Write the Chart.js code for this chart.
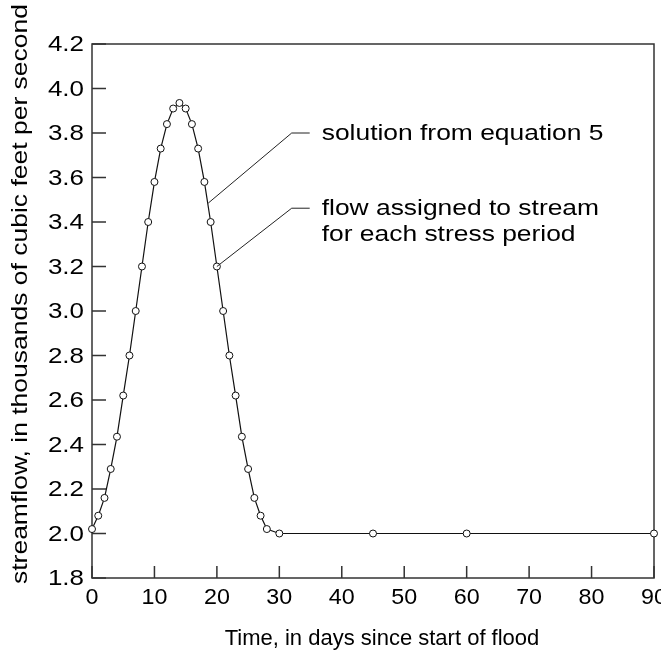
<!DOCTYPE html>
<html>
<head>
<meta charset="utf-8">
<script src="https://cdn.jsdelivr.net/npm/chart.js@4/dist/chart.umd.min.js"></script>
<style>
  html, body { margin: 0; padding: 0; background: #fff; }
  #wrap { width: 661px; height: 656px; }
</style>
</head>
<body>
<div id="wrap"><canvas id="flood"></canvas></div>
<script>
// days since start of flood, and streamflow (thousands of ft3/s)
const days = [0, 1, 2, 3, 4, 5, 6, 7, 8, 9, 10, 11, 12, 13, 14, 15, 16, 17, 18, 19,
              20, 21, 22, 23, 24, 25, 26, 27, 28, 30, 45, 60, 90];
const flow = [2.02, 2.08, 2.16, 2.29, 2.435, 2.62, 2.80, 3.00, 3.20, 3.40,
              3.58, 3.73, 3.84, 3.91, 3.935, 3.91, 3.84, 3.73, 3.58, 3.40,
              3.20, 3.00, 2.80, 2.62, 2.435, 2.29, 2.16, 2.08, 2.02, 2.00, 2.00, 2.00, 2.00];

const xTicks = [0, 10, 20, 30, 40, 50, 60, 70, 80, 90];
const yTicks = ['1.8', '2.0', '2.2', '2.4', '2.6', '2.8', '3.0', '3.2', '3.4', '3.6', '3.8', '4.0', '4.2'];

const xTitle = 'Time, in days since start of flood';
const yTitle = 'streamflow, in thousands of cubic feet per second';

// leader lines: from a spot on the curve, to an elbow, then a short horizontal run
const notes = [
  { lines: ['solution from equation 5'], from: [18.62, 3.485], elbow: [31.98, 3.80] },
  { lines: ['flow assigned to stream', 'for each stress period'], from: [20, 3.2], elbow: [31.98, 3.462] },
];

const FONT = '22px "Liberation Sans", Arial, sans-serif';

// text a bit wider than the font gives, like the scanned original
function stretchText(ctx, text, x, y, sx, align) {
  ctx.save();
  ctx.translate(x, y);
  ctx.scale(sx, 1);
  ctx.textAlign = align;
  ctx.fillText(text, 0, 0);
  ctx.restore();
}

const framePlugin = {
  id: 'frame',
  beforeDatasetsDraw(chart) {
    const { ctx, chartArea: a, scales } = chart;
    ctx.save();
    ctx.strokeStyle = '#333';
    ctx.lineWidth = 1.5;
    ctx.strokeRect(a.left, a.top, a.right - a.left, a.bottom - a.top);
    // inward tick marks
    ctx.lineWidth = 1.5;
    ctx.beginPath();
    yTicks.forEach(t => {
      const py = scales.y.getPixelForValue(parseFloat(t));
      ctx.moveTo(a.left, py);
      ctx.lineTo(a.left + 14, py);
    });
    xTicks.forEach(t => {
      const px = scales.x.getPixelForValue(t);
      ctx.moveTo(px, a.bottom);
      ctx.lineTo(px, a.bottom - 12);
    });
    ctx.stroke();
    ctx.restore();
  },
  afterDraw(chart) {
    const { ctx, chartArea: a, scales } = chart;
    const X = v => scales.x.getPixelForValue(v);
    const Y = v => scales.y.getPixelForValue(v);
    ctx.save();
    ctx.fillStyle = '#000';
    ctx.font = FONT;

    // tick labels
    ctx.textBaseline = 'middle';
    yTicks.forEach(t => stretchText(ctx, t, a.left - 8, Y(parseFloat(t)) + 1, 1.18, 'right'));
    xTicks.forEach(t => stretchText(ctx, String(t), X(t), a.bottom + 20, 1.06, 'center'));

    // axis titles
    ctx.textBaseline = 'alphabetic';
    stretchText(ctx, xTitle, (a.left + a.right) / 2 + 9, 645, 1.0, 'center');
    ctx.save();
    ctx.translate(27, 294);
    ctx.rotate(-Math.PI / 2);
    const sy = 580 / ctx.measureText(yTitle).width;
    stretchText(ctx, yTitle, 0, 0, sy, 'center');
    ctx.restore();

    // annotations
    ctx.strokeStyle = '#222';
    ctx.lineWidth = 1;
    notes.forEach(n => {
      const ex = X(n.elbow[0]), ey = Y(n.elbow[1]);
      ctx.beginPath();
      ctx.moveTo(X(n.from[0]), Y(n.from[1]));
      ctx.lineTo(ex, ey);
      ctx.lineTo(ex + 18, ey);
      ctx.stroke();
      n.lines.forEach((line, i) => {
        stretchText(ctx, line, ex + 30, ey + 7 + i * 26, 1.2, 'left');
      });
    });
    ctx.restore();
  }
};

new Chart(document.getElementById('flood'), {
  type: 'line',
  data: {
    datasets: [{
      label: 'streamflow',
      data: days.map((d, i) => ({ x: d, y: flow[i] })),
      borderColor: '#111',
      borderWidth: 1.2,
      pointRadius: 3.5,
      pointBackgroundColor: '#fff',
      pointBorderColor: '#111',
      pointBorderWidth: 1,
      tension: 0,
      clip: false
    }]
  },
  options: {
    responsive: true,
    maintainAspectRatio: false,
    animation: false,
    layout: { padding: { top: 44, right: 7, left: 0, bottom: 0 } },
    plugins: { legend: { display: false }, tooltip: { enabled: false } },
    scales: {
      x: {
        type: 'linear', min: 0, max: 90,
        ticks: { display: false, stepSize: 10 },
        grid: { display: false, drawTicks: false },
        border: { display: false },
        afterFit(s) { s.height = 78; }
      },
      y: {
        type: 'linear', min: 1.8, max: 4.2,
        ticks: { display: false, stepSize: 0.2 },
        grid: { display: false, drawTicks: false },
        border: { display: false },
        afterFit(s) { s.width = 92; }
      }
    }
  },
  plugins: [framePlugin]
});
</script>
</body>
</html>
